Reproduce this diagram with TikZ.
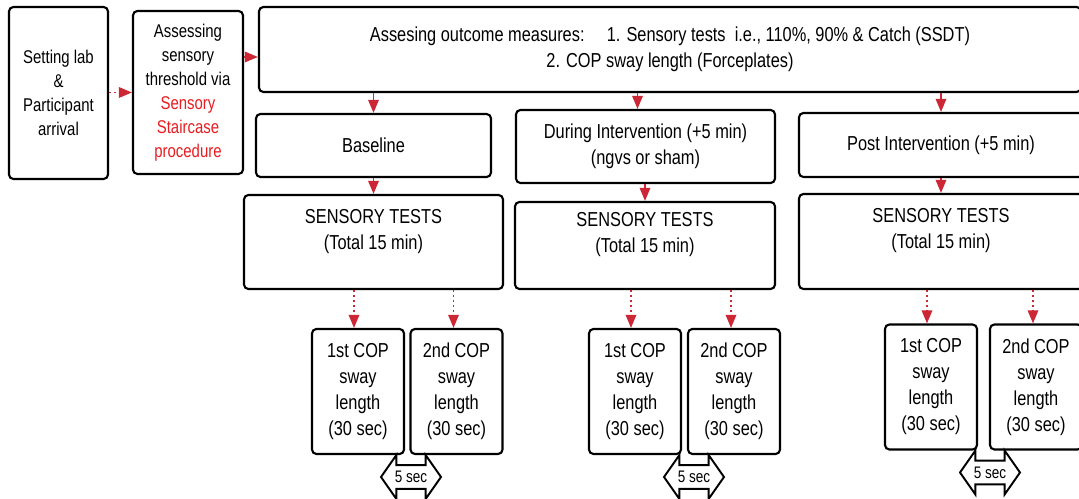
\documentclass[tikz,border=0pt]{standalone}
\usepackage{fontspec}
\setmainfont[FakeStretch=0.81]{Liberation Sans}
\usetikzlibrary{arrows.meta,shapes.arrows}
\definecolor{arrowred}{RGB}{205,38,52}
\definecolor{textred}{RGB}{232,28,32}
\def\unitpx{0.02cm}

\begin{document}
\begin{tikzpicture}[x=\unitpx, y=-\unitpx,
    box/.style={draw, line width=1.2pt, rounded corners=2.5pt, align=center,
      font=\fontsize{11.5}{14.8}\selectfont},
    smallbox/.style={box, font=\fontsize{10.5}{13.6}\selectfont},
    copbox/.style={box, minimum width=92*\unitpx, minimum height=125*\unitpx},
    gapbox/.style={draw, line width=1.1pt, fill=white, shape=double arrow,
      double arrow head extend=8*\unitpx, double arrow tip angle=110,
      minimum height=60*\unitpx, minimum width=44*\unitpx, inner sep=1.5pt,
      font=\fontsize{9.5}{10}\selectfont},
    solidarrow/.style={draw=arrowred, line width=1pt,
      -{Triangle[length=7.5pt,width=6pt,fill=arrowred]}},
    dotarrow/.style={solidarrow, dash pattern=on 1.2pt off 1.6pt}]
      \useasboundingbox (0,0) rectangle (1079,499);
      \clip (0,0) rectangle (1079,499);
      % first steps
      \node[smallbox, minimum width=99*\unitpx, minimum height=172*\unitpx] (arrival) at (58.5,93)
        {Setting lab\\\&\\Participant\\arrival};
      \node[smallbox, minimum width=110*\unitpx, minimum height=163*\unitpx] (threshold) at (188,92.5)
        {Assessing\\sensory\\threshold via\\{\color{textred}Sensory}\\{\color{textred}Staircase}\\{\color{textred}procedure}};
      \node[box, minimum width=822*\unitpx, minimum height=85*\unitpx] (outcome) at (670,49.5)
        {Assesing outcome measures:\hspace{1.1em}1. Sensory tests\ \ i.e., 110\%, 90\% \& Catch (SSDT)\\2. COP sway length (Forceplates)};
      % phases
      \node[box, minimum width=235*\unitpx, minimum height=63*\unitpx] (baseline) at (373.5,145.5) {Baseline};
      \node[box, minimum width=259*\unitpx, minimum height=73*\unitpx] (during) at (645.5,146.5)
        {During Intervention (+5 min)\\(ngvs or sham)};
      \node[box, minimum width=284*\unitpx, minimum height=64*\unitpx] (post) at (941,145) {Post Intervention (+5 min)};
      \foreach \g/\x/\y/\w/\h in {A/373.5/242/259/94, B/645/245.5/260/87, C/941/241.5/284/95} {
            \node[box, minimum width=\w*\unitpx, minimum height=\h*\unitpx] (st\g) at (\x,\y)
              {SENSORY TESTS\\(Total 15 min)\\\mbox{}};
      }
      % COP trials
      \foreach \g/\xa/\xb/\xg/\y in {A/358/456.5/411/391.5, B/635/734/694/391.5, C/931/1036/990/387} {
            \node[copbox] (cop\g1) at (\xa,\y) {1st COP\\sway\\length\\(30 sec)};
            \node[copbox] (cop\g2) at (\xb,\y) {2nd COP\\sway\\length\\(30 sec)};
            \node[gapbox] (gap\g) at (\xg,\y+85.5) {5 sec};
            \draw[dotarrow] ([xshift=-4*\unitpx]cop\g1.north |- st\g.south) -- ([xshift=-4*\unitpx]cop\g1.north);
            \draw[dotarrow] ([xshift=-3*\unitpx]cop\g2.north |- st\g.south) -- ([xshift=-3*\unitpx]cop\g2.north);
      }
      % connectors
      \draw[dotarrow] (arrival.east |- threshold.west) -- (threshold.west);
      \draw[solidarrow] ([yshift=-7.5*\unitpx]threshold.east |- outcome.west) -- ([yshift=-7.5*\unitpx]outcome.west);
      \foreach \a/\b in {outcome/baseline, outcome/post, baseline/stA, during/stB, post/stC} {
            \draw[solidarrow] (\b.north |- \a.south) -- (\b.north);
      }
      \draw[solidarrow] ([xshift=-8*\unitpx]during.north |- outcome.south) -- ([xshift=-8*\unitpx]during.north);
    \end{tikzpicture}
\end{document}
